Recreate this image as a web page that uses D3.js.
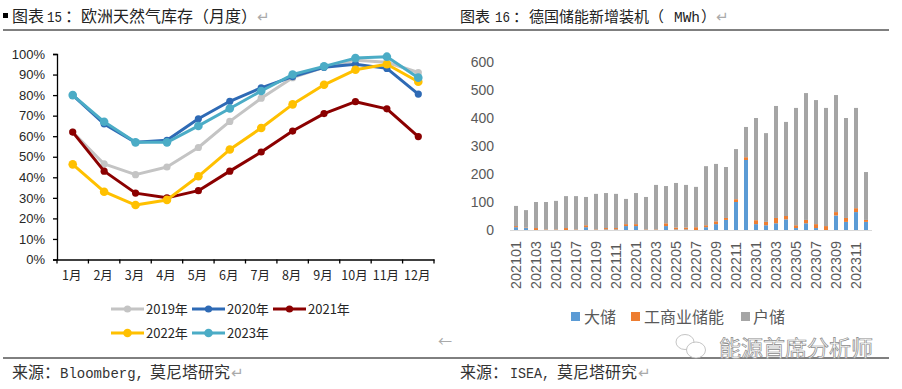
<!DOCTYPE html>
<html><head><meta charset="utf-8">
<script src="https://cdn.jsdelivr.net/npm/d3@7/dist/d3.min.js"></script>
<style>
html,body{margin:0;padding:0;background:#fff;overflow:hidden}
svg{display:block}
text{font-family:"Noto Sans CJK SC","Liberation Sans",sans-serif}
</style></head><body>
<svg id="c" width="902" height="389"></svg>
<script>
const months=["1月","2月","3月","4月","5月","6月","7月","8月","9月","10月","11月","12月"];
const y2019=[62,46.5,41.3,45,54.5,67.2,78.5,88.5,93.5,97,96,91];
const y2020=[80,66,57,58,68.5,77,83.5,89,93.5,95,93,80.5];
const y2021=[62,43,32.3,30,33.5,43,52.3,62.5,71,76.8,73.3,59.8];
const y2022=[46.3,33,26.5,29,40.5,53.5,64,75.5,85,92.3,95,86.5];
const y2023=[80,67,57,57,65,73.5,82,90,94,98,98.7,88.5];
const lineNames=["2019年","2020年","2021年","2022年","2023年"];
const lineColors=["#c4c4c4","#2e6ab5","#8b0000","#ffc000","#4bacc6"];
const periods=["202101","202102","202103","202104","202105","202106","202107","202108","202109","202110","202111","202112","202201","202202","202203","202204","202205","202206","202207","202208","202209","202210","202211","202212","202301","202302","202303","202304","202305","202306","202307","202308","202309","202310","202311","202312"];
const large=[10,7,0,0,0,0,0,10,0,2,2,14,14,0,0,14,2,2,0,10,21,36,100,250,21,17,24,38,7,24,7,0,52,29,64,29];
const commercial=[4,2,7,2,2,7,2,7,2,5,5,7,7,2,2,10,7,7,10,7,10,7,10,10,14,12,19,12,10,12,14,14,12,14,14,7];
const totals=[86,71,100,100,104,121,121,118,129,132,129,111,132,118,161,157,168,161,154,228,236,225,289,368,400,346,443,386,436,489,464,436,482,400,436,207];
const household=totals.map((t,i)=>t-large[i]-commercial[i]);
const barNames=["大储","工商业储能","户储"];
const barColors=["#5b9bd5","#ed7d31","#a5a5a5"];
const yTicksPct=[0,10,20,30,40,50,60,70,80,90,100];
const yTicksBar=[0,100,200,300,400,500,600];

const svg=d3.select("#c");
const ink="#262626", grey="#595959";
function t(x,y,s,size,fill,anchor){return svg.append("text").attr("x",x).attr("y",y).attr("font-size",size).attr("fill",fill||ink).attr("text-anchor",anchor||"start").text(s);}
// half-width Latin run squeezed to a known width, as in the reference's typeface
function latin(x,y,s,size,w,fill){
  return t(x,y,s,size,fill).style("font-family",'"Liberation Mono","DejaVu Sans Mono",monospace')
    .attr("textLength",w).attr("lengthAdjust","spacingAndGlyphs");
}
function ret(x,y){t(x,y,"↵",15,"#aaa").style("font-family",'"DejaVu Sans",sans-serif');}

// headers and rules
svg.append("rect").attr("x",3).attr("y",13).attr("width",5).attr("height",5).attr("fill","#000");
t(12,22,"图表",16,"#222");
latin(47,22,"15",14.5,15,"#222");
t(65,22,"：",16,"#222");
t(81,22,"欧洲天然气库存（月度）",16,"#222");
ret(257,22);
t(460,22,"图表",15,"#222");
latin(495,22,"16",14.5,15,"#222");
t(513,22,"：",15,"#222");
t(529,22,"德国储能新增装机（",15,"#222");
latin(674,22,"MWh",14,26,"#222");
t(701,22,"）",15,"#222");
ret(716,22);
t(12,378,"来源：",16,"#333");
latin(60,378,"Bloomberg,",15,84,"#333");
t(150,378,"莫尼塔研究",16,"#333");
ret(231,378);
t(460,378,"来源：",16,"#333");
latin(510,378,"ISEA,",15,40,"#333");
t(557,378,"莫尼塔研究",16,"#333");
ret(638,378);
t(438,346,"←",14,"#aaa");
[[3,450,30],[450,889,30],[3,450,358],[450,889,358]].forEach(r=>svg.append("line").attr("x1",r[0]).attr("x2",r[1]).attr("y1",r[2]).attr("y2",r[2]).attr("stroke","#000").attr("stroke-width",1));

// left chart
const xL=d3.scaleBand().domain(months).range([57,434]);
const yL=d3.scaleLinear().domain([0,100]).range([259.5,54]);
const gY=svg.append("g").attr("transform","translate(57,0)").call(d3.axisLeft(yL).tickValues(yTicksPct).tickFormat(d=>d+"%").tickSize(4).tickPadding(8));
gY.selectAll("path,line").attr("stroke","#000").attr("stroke-width",1.3);
gY.selectAll("text").attr("font-size",13).attr("fill",ink).style("font-family",'"Liberation Sans",sans-serif');
const gX=svg.append("g").attr("transform","translate(0,259.5)").call(d3.axisBottom(xL).tickSize(0).tickPadding(12).tickSizeOuter(0));
gX.select("path").attr("stroke","#000").attr("stroke-width",1.3);
gX.selectAll("text").attr("font-size",12.5).attr("fill",ink).attr("dx",-1);
svg.append("g").selectAll("line").data(d3.range(13)).join("line")
 .attr("x1",i=>57+i*xL.step()).attr("x2",i=>57+i*xL.step()).attr("y1",259.5).attr("y2",263.5).attr("stroke","#000").attr("stroke-width",1.3);

const seriesL=[y2019,y2020,y2021,y2022,y2023];
const markerR=[3.6,3.6,3.6,4.3,4.3];
const line=d3.line().x((d,i)=>xL(months[i])+xL.bandwidth()/2).y(d=>yL(d));
seriesL.forEach((s,k)=>{
  const g=svg.append("g");
  g.append("path").attr("d",line(s)).attr("fill","none").attr("stroke",lineColors[k]).attr("stroke-width",3).attr("stroke-linejoin","round");
  g.selectAll("circle").data(s).join("circle").attr("cx",(d,i)=>xL(months[i])+xL.bandwidth()/2).attr("cy",d=>yL(d)).attr("r",markerR[k]).attr("fill",lineColors[k]);
});
// left legend
const legPos=[[111,309],[192,309],[273,309],[111,333],[192,333]];
lineNames.forEach((n,k)=>{
  const [x,y]=legPos[k];
  svg.append("line").attr("x1",x).attr("x2",x+33).attr("y1",y).attr("y2",y).attr("stroke",lineColors[k]).attr("stroke-width",3);
  svg.append("circle").attr("cx",x+16.5).attr("cy",y).attr("r",markerR[k]).attr("fill",lineColors[k]);
  t(x+35,y+5,n,13,ink);
});

// right chart
const xR=d3.scaleBand().domain(periods).range([511,871]).paddingInner(0.6).paddingOuter(0.3);
const yR=d3.scaleLinear().domain([0,600]).range([230,62]);
const stackData=periods.map((p,i)=>({p,large:large[i],commercial:commercial[i],household:household[i]}));
const stack=d3.stack().keys(["large","commercial","household"])(stackData);
svg.append("g").selectAll("g").data(stack).join("g").attr("fill",(d,i)=>barColors[i])
 .selectAll("rect").data(d=>d).join("rect")
 .attr("x",d=>xR(d.data.p)).attr("width",xR.bandwidth())
 .attr("y",d=>yR(d[1])).attr("height",d=>yR(d[0])-yR(d[1]));
svg.append("line").attr("x1",510).attr("x2",872).attr("y1",230.5).attr("y2",230.5).attr("stroke","#d9d9d9").attr("stroke-width",1);
const gYR=svg.append("g").attr("transform","translate(494,0)").call(d3.axisLeft(yR).tickValues(yTicksBar).tickSize(0).tickPadding(0));
gYR.select("path").remove();
gYR.selectAll("text").attr("font-size",14).attr("fill",grey).style("font-family",'"Liberation Sans",sans-serif');
svg.append("g").selectAll("text").data(periods.filter((p,i)=>i%2===0)).join("text")
 .attr("transform",p=>`translate(${xR(p)+xR.bandwidth()/2+5},289) rotate(-90)`)
 .attr("font-size",14.4).attr("fill",grey).style("font-family",'"Liberation Sans",sans-serif').text(p=>p);
// right legend
[[571,584],[631,644],[741,753]].forEach((p,k)=>{
  svg.append("rect").attr("x",p[0]).attr("y",312).attr("width",9).attr("height",9).attr("fill",barColors[k]);
  t(p[1],323,barNames[k],16,grey);
});

// watermark
const wm=svg.append("g").attr("fill","#fff").attr("stroke","#b5b5b5").attr("stroke-width",0.8);
wm.append("ellipse").attr("cx",685).attr("cy",342).attr("rx",9).attr("ry",7.5);
wm.append("ellipse").attr("cx",696).attr("cy",350).attr("rx",9.5).attr("ry",8);
t(719,356,"能源首席分析师",22,"#fff").attr("stroke","#8a8a8a").attr("stroke-width",0.7);
</script>
</body></html>
